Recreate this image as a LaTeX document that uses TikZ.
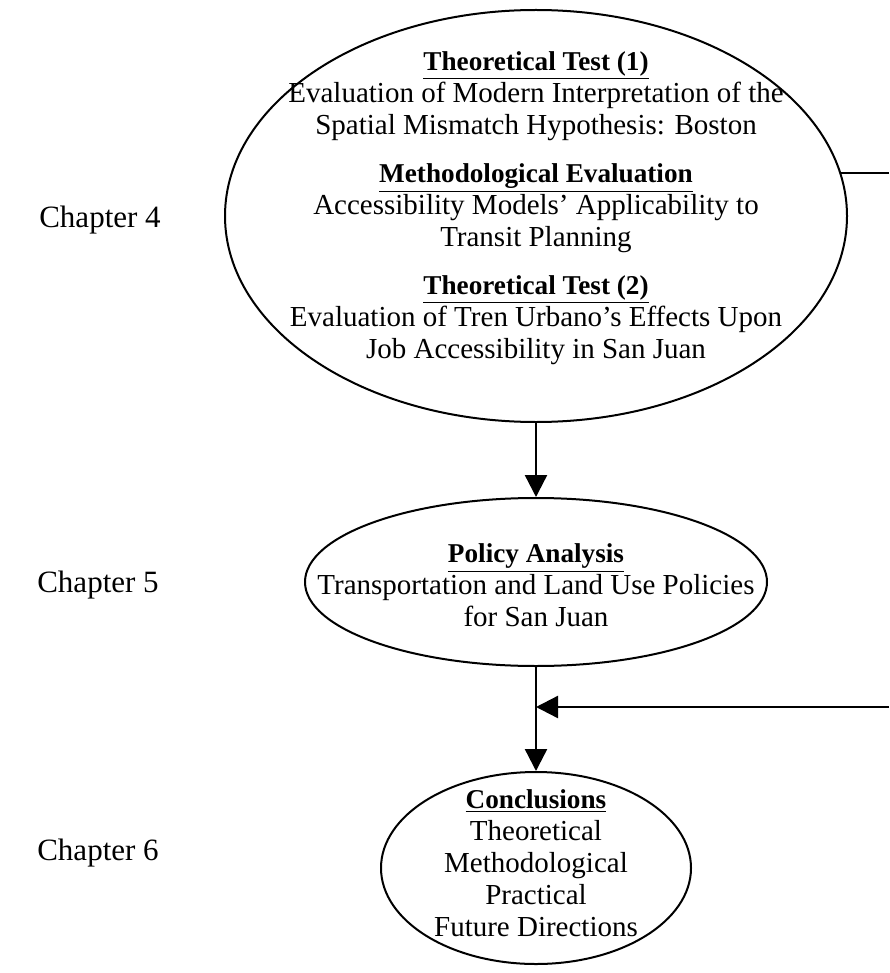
\documentclass[tikz,border=0pt]{standalone}
\usepackage{fontspec}
\setmainfont{Liberation Serif}
\usetikzlibrary{arrows.meta,positioning,shapes.geometric}

\newcommand{\stagehead}[1]{{\fontsize{13.6}{16}\selectfont\underline{\textbf{#1}}}}

\begin{document}
\begin{tikzpicture}[x=0.5pt,y=-0.5pt,on grid,
    every node/.style={font=\fontsize{14.5}{16}\selectfont},
    bubble/.style={ellipse,draw,line width=1pt,inner sep=0pt},
    words/.style={align=center,inner sep=0pt},
    chap/.style={font=\fontsize{15.5}{18}\selectfont},
    link/.style={line width=1.2pt},
    arr/.style={link,-{Triangle[length=11pt,width=11pt]}}]
   \useasboundingbox (0,0) rectangle (889,973);

   % the three stages
   \node[bubble,minimum width=311pt,minimum height=206pt] (test) at (536,216) {};
   \node[bubble,minimum width=231pt,minimum height=84pt] (policy) [below=183pt of test] {};
   \node[bubble,minimum width=155pt,minimum height=96pt] (concl) [below=143pt of policy] {};

   \node[words] (testtxt) at (536,208) {\stagehead{Theoretical Test (1)}\\
      Evaluation of Modern Interpretation of the\\
      Spatial Mismatch Hypothesis: Boston\\[8pt]
      \stagehead{Methodological Evaluation}\\
      Accessibility Models' Applicability to\\
      Transit Planning\\[8pt]
      \stagehead{Theoretical Test (2)}\\
      Evaluation of Tren Urbano's Effects Upon\\
      Job Accessibility in San Juan};
   \node[words] (policytxt) at ([yshift=-1.5pt]policy.center) {\stagehead{Policy Analysis}\\
      Transportation and Land Use Policies\\
      for San Juan};
   \node[words] (concltxt) at ([yshift=2.5pt]concl.center) {\stagehead{Conclusions}\\
      Theoretical\\
      Methodological\\
      Practical\\
      Future Directions};

   % chapter labels
   \node[chap] (ch4) at (100,220) {Chapter 4};
   \node[chap] (ch5) at (98,585) {Chapter 5};
   \node[chap] (ch6) at (98,853) {Chapter 6};

   % connectors
   \coordinate (edge) at (889,707);
   \draw[arr] (test) -- (policy);
   \draw[arr] (policy) -- (concl);
   \draw[arr] (edge) -- (edge -| policy.south);
   \draw[link] (test.8) -- (test.8 -| edge);
\end{tikzpicture}
\end{document}
